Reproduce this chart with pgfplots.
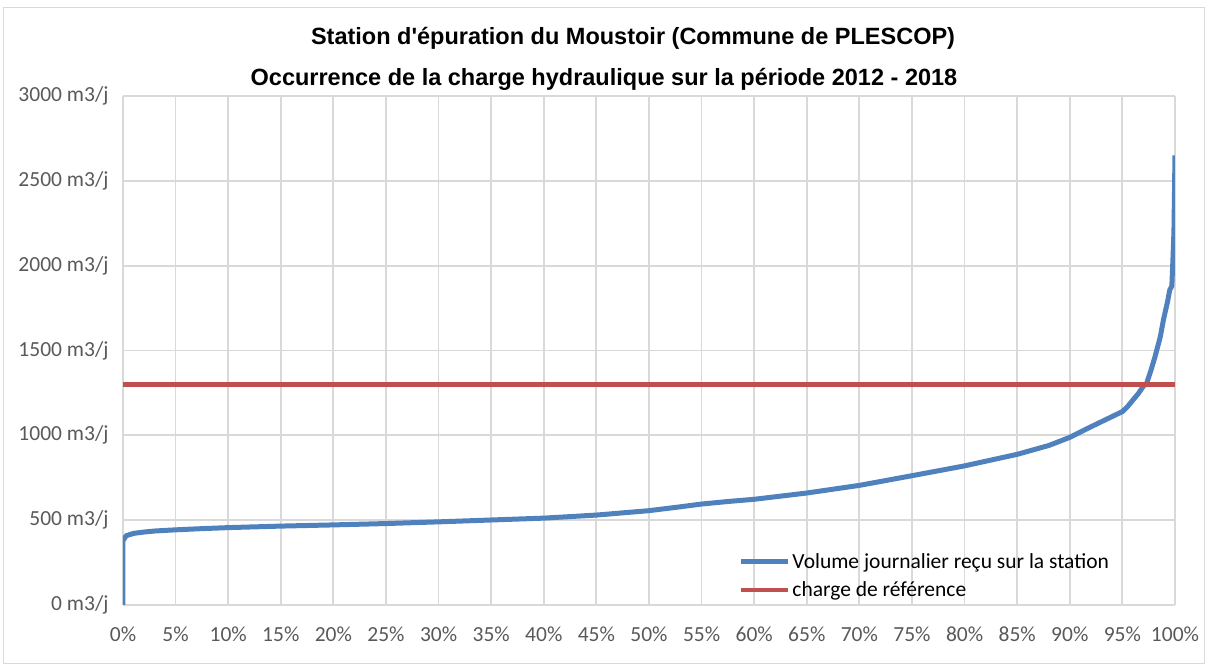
\documentclass[border=0pt]{standalone}
\usepackage{pgfplots}
\pgfplotsset{compat=1.18}
\usepackage{fontspec}
\setmainfont{Carlito}
\newfontfamily\titlefont{Liberation Sans}
\definecolor{serieblue}{HTML}{4F81BD}
\definecolor{seriered}{HTML}{C0504D}
\definecolor{gridgray}{HTML}{D9D9D9}
\definecolor{labelgray}{HTML}{595959}

\begin{document}
\begin{tikzpicture}
% overall frame of the chart (1 px = 1 pt)
\path (-123pt,-63pt) rectangle (1085pt,605pt);
\draw[gridgray, line width=1pt] (-119pt,-59pt) rectangle (1081pt,597pt);
\node[font={\titlefont\bfseries\fontsize{23.5}{28}\selectfont}] at (510pt,567pt)
  {Station d'épuration du Moustoir (Commune de PLESCOP)};
\node[font={\titlefont\bfseries\fontsize{23.5}{28}\selectfont}] at (481pt,526pt)
  {Occurrence de la charge hydraulique sur la période 2012 - 2018};
\begin{axis}[
    scale only axis,
    width=1052pt, height=509pt,
    xmin=0, xmax=100, ymin=0, ymax=3000,
    xtick distance=5, ytick distance=500,
    axis line style={draw=none},
    grid=major,
    major grid style={gridgray, line width=1.8pt},
    major tick length=0pt,
    /pgf/number format/assume math mode=true,
    /pgf/number format/1000 sep={},
    xticklabel={\pgfmathprintnumber{\tick}\%},
    yticklabel={\pgfmathprintnumber{\tick} m3/j},
    tick label style={font=\fontsize{21.5}{26}\selectfont, text=labelgray},
    xticklabel style={yshift=-18pt},
    yticklabel style={xshift=-11pt},
    legend style={draw=none, fill=none, at={(0.582,0.11)}, anchor=north west,
        font=\fontsize{21.5}{26}\selectfont, row sep=8pt,
        legend cell align=left},
    legend image code/.code={\draw[#1] (0pt,0pt) -- (47pt,0pt);},
]
\addplot[serieblue, line width=5pt, line join=round] coordinates {
(0,0) (0,380) (0.3,408) (1,422) (2,430) (3,436) (5,443) (7.5,450)
(10,456) (15,465) (20,472) (25,480) (30,490) (35,501) (40,512)
(45,530) (50,556) (52.5,575) (55,595) (57.5,610) (60,623) (65,660) (70,705)
(75,762) (80,820) (85,888) (88,940) (90,988) (92,1050) (93,1080) (94,1110)
(94.5,1125) (95,1140) (95.5,1170) (96,1208) (96.5,1245) (97,1290) (97.3,1306)
(97.7,1380) (98.1,1463) (98.6,1580) (98.9,1680) (99.3,1790) (99.5,1856)
(99.7,1880) (99.8,2030) (99.9,2200) (100,2650)
};
\addlegendentry{Volume journalier reçu sur la station}
\addplot[seriered, line width=4.5pt] coordinates {(0,1300) (100,1300)};
\addlegendentry{charge de référence}
\end{axis}
\end{tikzpicture}
\end{document}
